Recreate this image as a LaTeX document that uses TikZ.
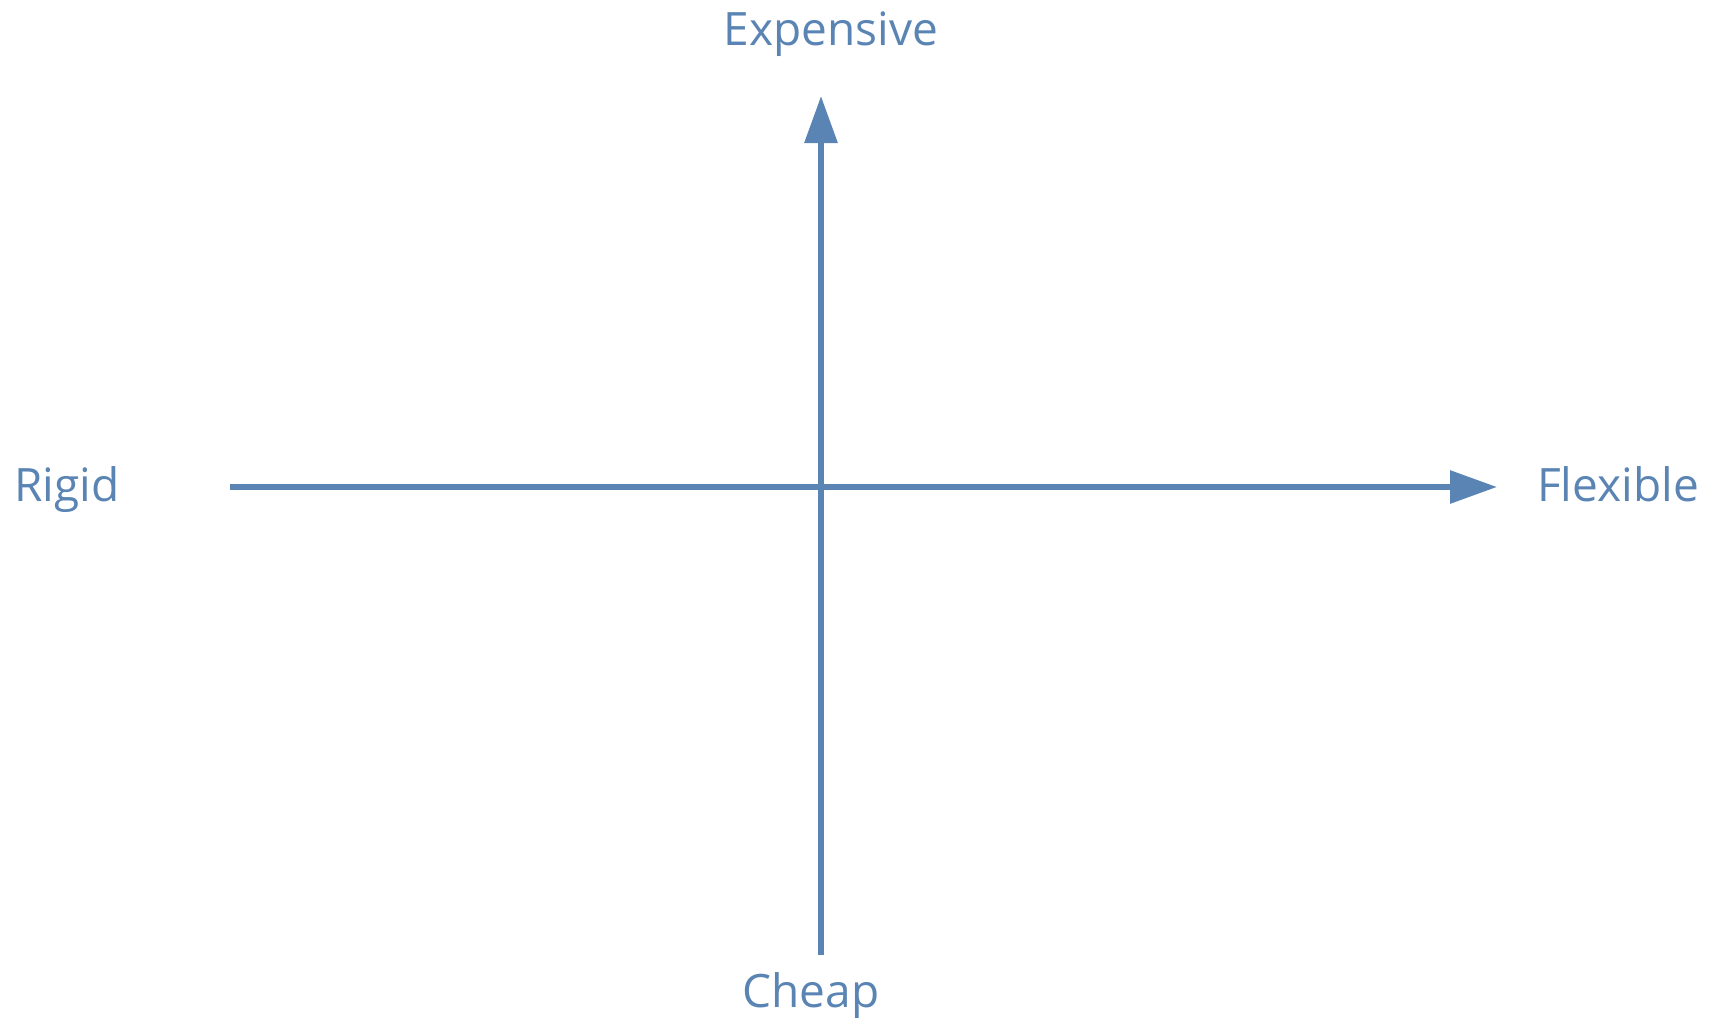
\documentclass[tikz,border=0pt]{standalone}
\usepackage{fontspec}
\setmainfont{Open Sans}
\usetikzlibrary{arrows.meta}
\definecolor{axisblue}{HTML}{5A84B3}
\tikzset{
  axis/.style={draw=axisblue, line width=6pt, -{Triangle[length=47pt,width=32pt]}},
  lbl/.style={text=axisblue, font=\fontsize{46}{52}\selectfont, anchor=base, inner sep=0pt}
}
\begin{document}
\begin{tikzpicture}[x=1pt,y=-1pt]
\useasboundingbox (0,0) rectangle (1718,1020);
\coordinate (vb) at (821,955);
\coordinate (vt) at (821,96);
\coordinate (hl) at (230,487);
\coordinate (hr) at (1497,487);
\draw[axis] (hl) -- (hr);
\draw[axis] (vb) -- (vt);
\node[lbl] (exp) at (831,45) {Expensive};
\node[lbl] (chp) at (811,1007) {Cheap};
\node[lbl] (rig) at (67,501) {Rigid};
\node[lbl] (flx) at (1618,501) {Flexible};
\end{tikzpicture}
\end{document}
